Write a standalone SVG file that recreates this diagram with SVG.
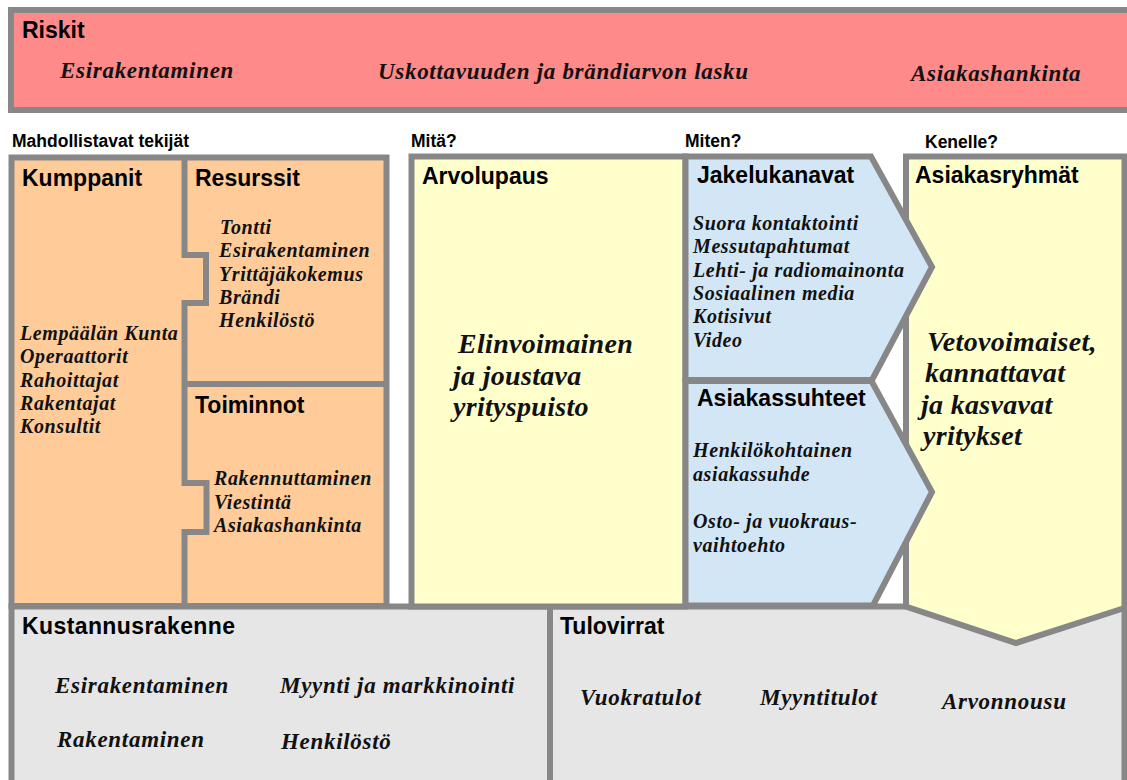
<svg xmlns="http://www.w3.org/2000/svg" width="1127" height="780" viewBox="0 0 1127 780">
<defs>
<style>
.b{stroke:#878787;stroke-width:6;stroke-linejoin:miter}
.ln{fill:none;stroke:#878787;stroke-width:6;stroke-linejoin:miter}
.hd{font-family:"Liberation Sans",Arial,sans-serif;font-weight:bold;font-size:23px;fill:#000}
.lb{font-family:"Liberation Sans",Arial,sans-serif;font-weight:bold;font-size:17.5px;fill:#000}
.it{font-family:"Liberation Serif","DejaVu Serif",serif;font-style:italic;font-weight:bold;font-size:20px;letter-spacing:0.6px;fill:#111}
.im{font-family:"Liberation Serif","DejaVu Serif",serif;font-style:italic;font-weight:bold;font-size:23px;letter-spacing:0.7px;fill:#111}
.il{font-family:"Liberation Serif","DejaVu Serif",serif;font-style:italic;font-weight:bold;font-size:28px;letter-spacing:0.3px;fill:#111}
</style>
</defs>
<rect width="1127" height="780" fill="#fff"/>

<g id="riskit">
<rect class="b" x="11" y="10" width="1130" height="100" fill="#FF8A8A"/>
<text class="hd" x="22" y="38">Riskit</text>
<text class="im" x="60" y="78">Esirakentaminen</text>
<text class="im" x="378" y="79">Uskottavuuden ja brändiarvon lasku</text>
<text class="im" x="911" y="81">Asiakashankinta</text>
</g>

<g id="labels">
<text class="lb" x="12" y="147">Mahdollistavat tekijät</text>
<text class="lb" x="411" y="147">Mitä?</text>
<text class="lb" x="685" y="147">Miten?</text>
<text class="lb" x="925" y="148">Kenelle?</text>
</g>

<g id="kustannusrakenne">
<rect class="b" x="11.5" y="606.5" width="538.5" height="200" fill="#E6E6E6"/>
<text class="hd" x="22" y="634" style="letter-spacing:0.4px">Kustannusrakenne</text>
<text class="im" x="55" y="693">Esirakentaminen</text>
<text class="im" x="280" y="693">Myynti ja markkinointi</text>
<text class="im" x="57" y="747">Rakentaminen</text>
<text class="im" x="281" y="749">Henkilöstö</text>
</g>

<g id="tulovirrat">
<rect class="b" x="550" y="606.5" width="574.5" height="200" fill="#E6E6E6"/>
<text class="hd" x="560" y="634">Tulovirrat</text>
<text class="im" x="580" y="705">Vuokratulot</text>
<text class="im" x="760" y="705">Myyntitulot</text>
<text class="im" x="942" y="709">Arvonnousu</text>
</g>

<g id="mahdollistavat">
<rect class="b" x="11.5" y="157.5" width="375" height="448.5" fill="#FFCC99"/>
</g>

<g id="connectors">
<path class="ln" d="M184.5,157.5 V255 H206 V303 H184.5 V483 H206.5 V532 H184.5 V606"/>
<path class="ln" d="M184.5,384 H386.5"/>
</g>

<g id="kumppanit">
<text class="hd" x="22" y="186">Kumppanit</text>
<text class="it"><tspan x="20" y="340">Lempäälän Kunta</tspan><tspan x="20" y="363">Operaattorit</tspan><tspan x="20" y="387">Rahoittajat</tspan><tspan x="20" y="410">Rakentajat</tspan><tspan x="20" y="433">Konsultit</tspan></text>
</g>

<g id="resurssit">
<text class="hd" x="195" y="186">Resurssit</text>
<text class="it"><tspan x="220" y="234">Tontti</tspan><tspan x="219" y="257">Esirakentaminen</tspan><tspan x="219" y="281">Yrittäjäkokemus</tspan><tspan x="219" y="304">Brändi</tspan><tspan x="219" y="327">Henkilöstö</tspan></text>
</g>

<g id="toiminnot">
<text class="hd" x="195" y="413">Toiminnot</text>
<text class="it"><tspan x="214" y="485">Rakennuttaminen</tspan><tspan x="214" y="509">Viestintä</tspan><tspan x="214" y="532">Asiakashankinta</tspan></text>
</g>

<g id="arvolupaus">
<rect class="b" x="411.5" y="156.5" width="274" height="450" fill="#FFFFCC"/>
<text class="hd" x="422" y="184">Arvolupaus</text>
<text class="il"><tspan x="458" y="353">Elinvoimainen</tspan><tspan x="453" y="385">ja joustava</tspan><tspan x="453" y="416">yrityspuisto</tspan></text>
</g>

<g id="asiakasryhmat">
<polygon class="b" points="906,156.5 1124.5,156.5 1124.5,608 1016,643 906,606.5" fill="#FFFFCC"/>
<text class="hd" x="915" y="183">Asiakasryhmät</text>
<text class="il"><tspan x="927" y="351">Vetovoimaiset,</tspan><tspan x="925" y="382">kannattavat</tspan><tspan x="921" y="414">ja kasvavat</tspan><tspan x="923" y="445">yritykset</tspan></text>
</g>

<g id="jakelukanavat">
<polygon class="b" points="685.5,156.5 871,156.5 932,267 872,380 685.5,380" fill="#D2E6F5"/>
<text class="hd" x="697" y="183">Jakelukanavat</text>
<text class="it"><tspan x="693" y="230">Suora kontaktointi</tspan><tspan x="693" y="253">Messutapahtumat</tspan><tspan x="693" y="277">Lehti- ja radiomainonta</tspan><tspan x="693" y="300">Sosiaalinen media</tspan><tspan x="693" y="323">Kotisivut</tspan><tspan x="693" y="347">Video</tspan></text>
</g>

<g id="asiakassuhteet">
<polygon class="b" points="685.5,381 871.5,381 932,492 873,605.5 685.5,605.5" fill="#D2E6F5"/>
<text class="hd" x="697" y="406">Asiakassuhteet</text>
<text class="it"><tspan x="693" y="457">Henkilökohtainen</tspan><tspan x="693" y="481">asiakassuhde</tspan><tspan x="693" y="528">Osto- ja vuokraus-</tspan><tspan x="693" y="552">vaihtoehto</tspan></text>
</g>
</svg>
